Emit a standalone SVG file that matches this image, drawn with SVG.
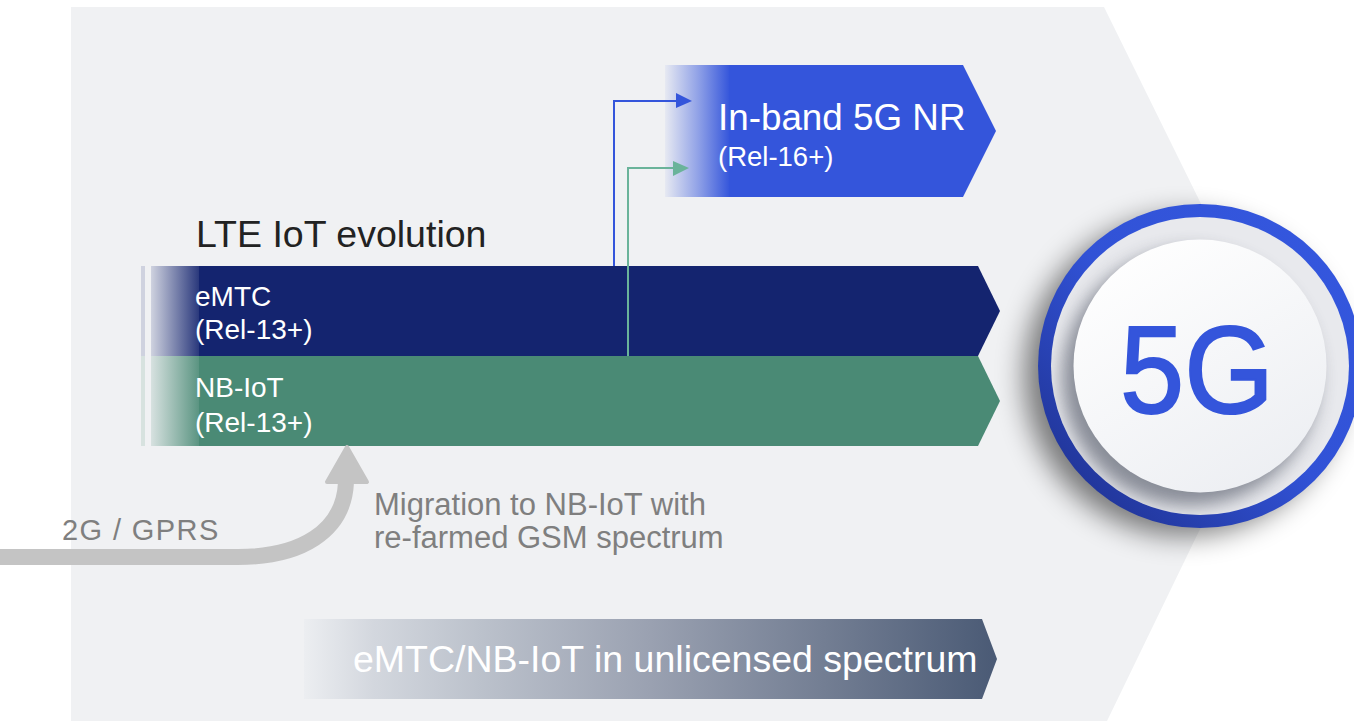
<svg xmlns="http://www.w3.org/2000/svg" width="1354" height="721" viewBox="0 0 1354 721">
<style>
.t{font-family:"Liberation Sans",Arial,Helvetica,sans-serif}
.w{fill:#ffffff}
.g{fill:#7f7f7f}
</style>
<defs>
<linearGradient id="fadeBlue" gradientUnits="userSpaceOnUse" x1="151" y1="0" x2="199" y2="0">
<stop offset="0" stop-color="#14246f" stop-opacity="0.15"/>
<stop offset="1" stop-color="#14246f" stop-opacity="0.9"/>
</linearGradient>
<linearGradient id="fadeGreen" gradientUnits="userSpaceOnUse" x1="151" y1="0" x2="199" y2="0">
<stop offset="0" stop-color="#4a8a75" stop-opacity="0.15"/>
<stop offset="1" stop-color="#4a8a75" stop-opacity="0.9"/>
</linearGradient>
<linearGradient id="fadeNR" gradientUnits="userSpaceOnUse" x1="665" y1="0" x2="730" y2="0">
<stop offset="0" stop-color="#3455db" stop-opacity="0.05"/>
<stop offset="0.5" stop-color="#3455db" stop-opacity="0.5"/>
<stop offset="1" stop-color="#3455db" stop-opacity="1"/>
</linearGradient>
<linearGradient id="unlic" gradientUnits="userSpaceOnUse" x1="304" y1="0" x2="997" y2="0">
<stop offset="0" stop-color="#eceef1"/>
<stop offset="0.1" stop-color="#d3d7de"/>
<stop offset="0.25" stop-color="#bcc2cc"/>
<stop offset="0.5" stop-color="#9aa1b1"/>
<stop offset="0.75" stop-color="#737e93"/>
<stop offset="1" stop-color="#4a5a75"/>
</linearGradient>
<linearGradient id="ringBlue" x1="1" y1="0" x2="0" y2="1">
<stop offset="0" stop-color="#3558e0"/>
<stop offset="0.5" stop-color="#3152d6"/>
<stop offset="1" stop-color="#1c2c85"/>
</linearGradient>
<linearGradient id="disc" x1="0.2" y1="0" x2="0.8" y2="1">
<stop offset="0" stop-color="#ffffff"/>
<stop offset="1" stop-color="#eceef2"/>
</linearGradient>
<filter id="blur12" x="-50%" y="-50%" width="200%" height="200%">
<feGaussianBlur stdDeviation="14"/>
</filter>
<filter id="blur8" x="-50%" y="-50%" width="200%" height="200%">
<feGaussianBlur stdDeviation="9"/>
</filter>
<clipPath id="ringClip">
<circle cx="1200" cy="366" r="149"/>
</clipPath>
</defs>

<!-- background chevron -->
<polygon id="bg" points="71,7 1104,7 1280,364 1107,721 71,721" fill="#f0f1f3"/>

<!-- eMTC -->
<g id="emtc">
<rect x="141" y="266" width="4" height="90" fill="#14246f" opacity="0.15"/>
<rect x="151" y="266" width="48" height="90" fill="url(#fadeBlue)"/>
<polygon points="199,266 978,266 1000,311 978,356 199,356" fill="#14246f"/>
<text class="t w" x="195" y="306" font-size="28">eMTC</text>
<text class="t w" x="195" y="339" font-size="28">(Rel-13+)</text>
</g>

<!-- NB-IoT -->
<g id="nbiot">
<rect x="141" y="356" width="4" height="90" fill="#4a8a75" opacity="0.15"/>
<rect x="151" y="356" width="48" height="90" fill="url(#fadeGreen)"/>
<polygon points="199,356 978,356 1000,401 978,446 199,446" fill="#4a8a75"/>
<text class="t w" x="195" y="397" font-size="28">NB-IoT</text>
<text class="t w" x="195" y="432" font-size="28">(Rel-13+)</text>
</g>

<!-- In-band 5G NR -->
<g id="nr">
<rect x="665" y="65" width="65" height="132" fill="url(#fadeNR)"/>
<polygon points="729,65 963,65 996,131 963,197 729,197" fill="#3455db"/>
<text class="t w" x="718" y="130" font-size="36.8">In-band 5G NR</text>
<text class="t w" x="718" y="166" font-size="27.5">(Rel-16+)</text>
</g>

<!-- title -->
<g id="title">
<text class="t" x="196" y="247" font-size="37.5" fill="#222222">LTE IoT evolution</text>
</g>

<!-- unlicensed -->
<g id="unlicensed">
<polygon points="304,619 982,619 997,659 982,699 304,699" fill="url(#unlic)"/>
<text class="t w" x="353" y="672" font-size="37.5">eMTC/NB-IoT in unlicensed spectrum</text>
</g>

<!-- 2G/GPRS -->
<g id="gprs">
<text class="t g" x="62" y="540" font-size="29" letter-spacing="1.4">2G / GPRS</text>
</g>

<!-- migration label -->
<g id="migration">
<text class="t g" x="374" y="515" font-size="31">Migration to NB-IoT with</text>
<text class="t g" x="374" y="548" font-size="31">re-farmed GSM spectrum</text>
</g>

<!-- connectors -->
<g id="connectors">
<path d="M0,557 H238 C300,557 344,532 346,482" fill="none" stroke="#c4c4c4" stroke-width="16"/>
<polygon points="327,482 347,447 367,482" fill="#c4c4c4" stroke="#c4c4c4" stroke-width="4" stroke-linejoin="round"/>
<path d="M614,266 V101 H678" fill="none" stroke="#3455db" stroke-width="2"/>
<polygon points="676,93 692,101 676,108" fill="#3455db"/>
<path d="M628,356 V168 H675" fill="none" stroke="#6ab39a" stroke-width="2"/>
<polygon points="673,161 689,168 673,176" fill="#6ab39a"/>
</g>

<!-- 5G circle -->
<g id="fiveg">
<circle cx="1184" cy="376" r="160" fill="#000000" opacity="0.5" filter="url(#blur12)"/>
<circle cx="1200" cy="366" r="162" fill="url(#ringBlue)"/>
<circle cx="1200" cy="366" r="149" fill="#e8e9ed"/>
<g clip-path="url(#ringClip)">
<circle cx="1190" cy="378" r="128" fill="#4a4f5e" opacity="0.6" filter="url(#blur8)"/>
</g>
<circle cx="1200" cy="366" r="126.5" fill="url(#disc)"/>
<text class="t" x="1197" y="413" font-size="124" text-anchor="middle" fill="#3455db" stroke="#3455db" stroke-width="2" textLength="154" lengthAdjust="spacingAndGlyphs">5G</text>
</g>
</svg>
